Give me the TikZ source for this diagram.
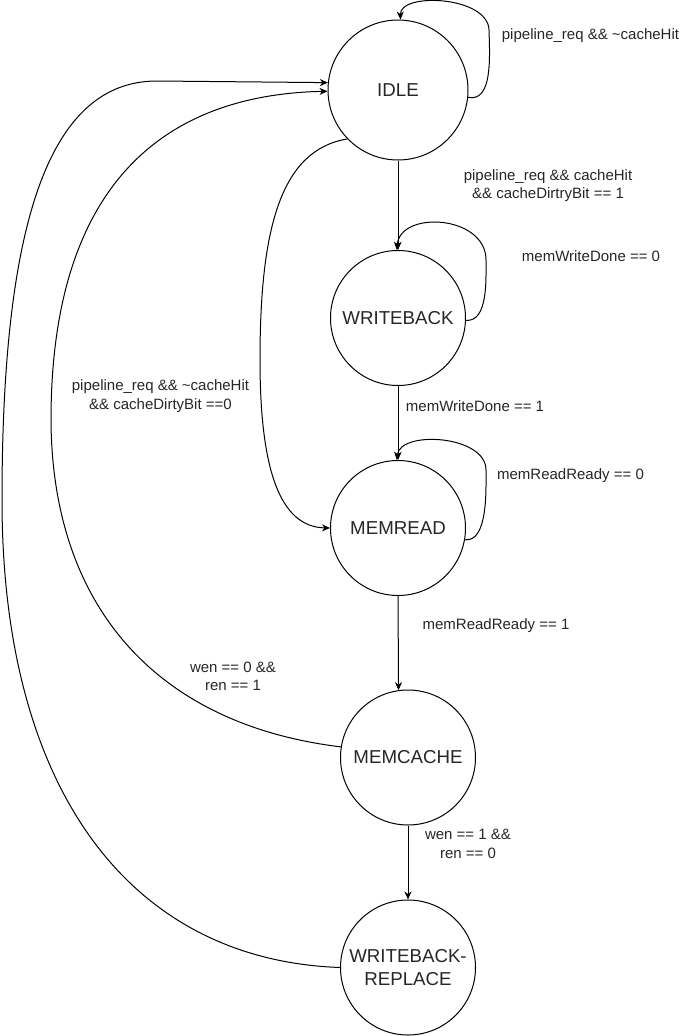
\documentclass[tikz,border=0pt]{standalone}
\usepackage{fontspec}
\setmainfont{Liberation Sans}
\usetikzlibrary{arrows.meta}
\begin{document}
\begin{tikzpicture}[x=1pt,y=-1pt,
  state/.style={circle,draw=black,line width=1pt,inner sep=0pt,minimum size=135pt,
    font=\fontsize{18.7}{23.3}\selectfont,text=black!85,align=center},
  lbl/.style={font=\fontsize{15}{18.3}\selectfont,text=black!85,align=center,inner sep=0pt},
  edge/.style={draw=black,line width=1pt,-{Stealth[length=8pt,width=7pt,inset=2.5pt]}}]
\useasboundingbox (0,0) rectangle (691,1036);
\node[state,minimum size=140pt] (idle) at (398,90) {IDLE};
\node[state] (wb) at (398,318) {WRITEBACK};
\node[state] (mr) at (398,528) {MEMREAD};
\node[state] (mc) at (408,757.5) {MEMCACHE};
\node[state] (wbr) at (408,967.5) {WRITEBACK-\\REPLACE};

\draw[edge] (idle.-6) .. controls (492,102) and (490,60) .. (489,30) .. controls (488,-4) and (400,-8) .. (idle.88);
\draw[edge] (idle.south) -- (wb.north);
\draw[edge] (wb.-2) .. controls (488,322) and (486,280) .. (486,260) .. controls (486,215) and (400,210) .. (wb.91);
\draw[edge] (wb.south) -- (mr.north);
\draw[edge] (mr.-10) .. controls (488,542) and (486,490) .. (486,470) .. controls (486,435) and (400,430) .. (mr.91);
\draw[edge] (mr.south) -- (mc.98);
\draw[edge] (mc.south) -- (wbr.north);
\draw[edge] (idle.224) .. controls (280,150) and (260,230) .. (260,360) .. controls (260,470) and (280,527) .. (mr.west);
\draw[edge] (mc.171) .. controls (160,725) and (52,610) .. (51,420) .. controls (51,200) and (150,95) .. (idle.181);
\draw[edge] (wbr.west) .. controls (130,960) and (2,790) .. (2,500) .. controls (2,220) and (50,81) .. (157,81) -- (idle.174);

\node[lbl] (l1) at (590.5,36) {pipeline\_req \&\& \textasciitilde cacheHit};
\node[lbl] (l2) at (548,185.5) {pipeline\_req \&\& cacheHit\\\&\& cacheDirtryBit == 1};
\node[lbl] (l3) at (591,256) {memWriteDone == 0};
\node[lbl] (l4) at (475,406) {memWriteDone == 1};
\node[lbl] (l5) at (570.5,476) {memReadReady == 0};
\node[lbl] (l6) at (496,626) {memReadReady == 1};
\node[lbl] (l7) at (233,676) {wen == 0 \&\&\\ren == 1};
\node[lbl] (l8) at (468,844) {wen == 1 \&\&\\ren == 0};
\node[lbl] (l9) at (160.5,396) {pipeline\_req \&\& \textasciitilde cacheHit\\\&\& cacheDirtyBit ==0};
\end{tikzpicture}
\end{document}
